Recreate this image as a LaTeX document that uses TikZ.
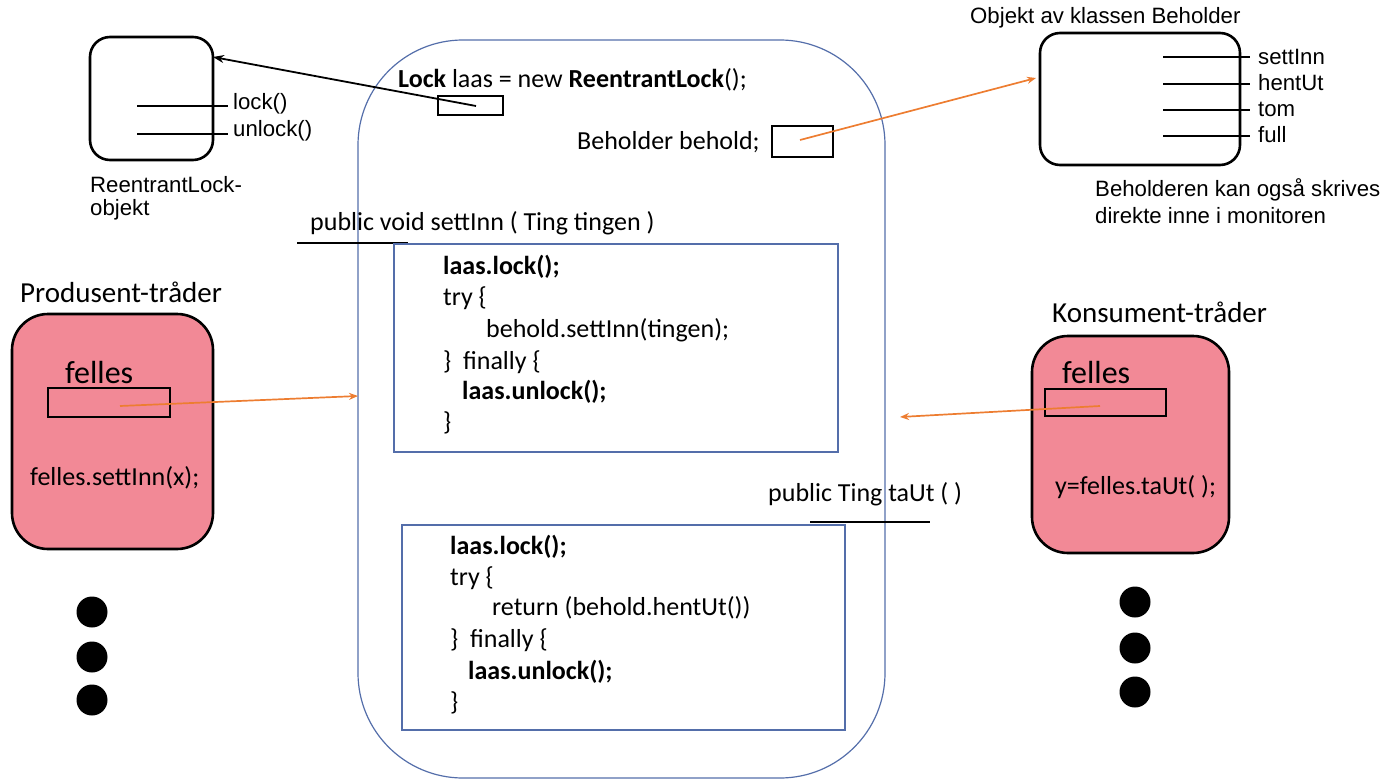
\documentclass[tikz,border=0pt]{standalone}
\usepackage{fontspec}
\setmainfont{Carlito}
\newfontfamily\arial{Liberation Sans}
\usetikzlibrary{arrows.meta}
\definecolor{monblue}{RGB}{84,110,170}
\definecolor{pinkfill}{RGB}{242,137,150}
\definecolor{arrorange}{RGB}{237,125,49}
\begin{document}
\begin{tikzpicture}[x=1pt,y=-1pt,
  objbox/.style={draw=black, line width=2.6pt, rounded corners=20pt, inner sep=0},
  thread/.style={draw=black, line width=2.6pt, fill=pinkfill, rounded corners=36pt, inner sep=0},
  codebox/.style={draw=monblue, line width=1.1pt, inner sep=0},
  refbox/.style={draw=black, line width=1.5pt, inner sep=0},
  lab/.style={font=\arial\fontsize{22.2}{27}\selectfont, anchor=west, inner sep=0},
  code/.style={font=\fontsize{26}{31}\selectfont, anchor=west, inner sep=0},
  titlecap/.style={font=\fontsize{29}{34}\selectfont, anchor=west, inner sep=0},
  big/.style={font=\fontsize{32}{38}\selectfont, anchor=west, inner sep=0},
  dot/.style={circle, fill=black, minimum size=31pt, inner sep=0},
  stub/.style={draw=black, line width=1.4pt},
  blk/.style={draw=black, line width=1.8pt, -{Stealth[length=11pt,width=8pt]}},
  org/.style={draw=arrorange, line width=1.7pt, -{Stealth[length=9pt,width=7pt]}}
]
\useasboundingbox (0,0) rectangle (1392,781);

% monitor
\node[draw=monblue, line width=1.2pt, rounded corners=105pt, minimum width=527pt, minimum height=738pt, inner sep=0] (mon) at (621.5,409) {};

% ReentrantLock object
\node[objbox, minimum width=123pt, minimum height=123pt] (rl) at (151.5,98.5) {};
\node[lab] (lockl) at (233,104) {lock()};
\node[lab] (unlockl) at (233,131) {unlock()};
\coordinate (l1) at (137,106);
\coordinate (l2) at (137,134);
\draw[stub] (l1) -- (228,106);
\draw[stub] (l2) -- (228,134);
\node[lab] (rlcap) at (90,185) {ReentrantLock-};
\node[lab] (rlcap2) at (90,210) {objekt};

% monitor header
\node[code] (lockdecl) at (398,80) {\textbf{Lock} laas = new \textbf{ReentrantLock}();};
\node[refbox, minimum width=65pt, minimum height=19pt] (laasref) at (470.5,105.5) {};
\node[code] (behdecl) at (577,142) {Beholder behold;};
\node[refbox, minimum width=61pt, minimum height=31pt] (behref) at (802.5,141.5) {};

% Beholder object
\node[lab] (objcap) at (970,18) {Objekt av klassen Beholder};
\node[objbox, minimum width=200pt, minimum height=132pt] (beh) at (1140,99) {};
\node[lab] (m1) at (1258,57) {settInn};
\node[lab] (m2) at (1258,83) {hentUt};
\node[lab] (m3) at (1258,109) {tom};
\node[lab] (m4) at (1258,135) {full};
\coordinate (s1) at (1163,57);
\coordinate (s2) at (1163,84);
\coordinate (s3) at (1163,110);
\coordinate (s4) at (1163,136);
\draw[stub] (s1) -- (1250,57);
\draw[stub] (s2) -- (1250,84);
\draw[stub] (s3) -- (1250,110);
\draw[stub] (s4) -- (1250,136);
\node[lab] (note1) at (1095,190) {Beholderen kan også skrives};
\node[lab] (note2) at (1095,216) {direkte inne i monitoren};

% arrows from references
\coordinate (rlhit) at (213,57);
\coordinate (laasstart) at (476,106);
\draw[blk] (laasstart) -- (rlhit);
\coordinate (behstart) at (800,140);
\coordinate (behhit) at (1036,78);
\draw[org] (behstart) -- (behhit);

% settInn method
\node[code] (sig1) at (310,223) {public void settInn ( Ting tingen )};
\draw[black, line width=1.2pt] (297,243) -- (408,243);
\node[codebox, minimum width=444pt, minimum height=208pt] (box1) at (616,348) {};
\node[code] (c11) at (443,267) {\textbf{laas.lock();}};
\node[code] (c12) at (443,298) {try \{};
\node[code] (c13) at (486,330) {behold.settInn(tingen);};
\node[code] (c14) at (443,362) {\}\ \ finally \{};
\node[code] (c15) at (462,392) {\textbf{laas.unlock();}};
\node[code] (c16) at (443,423) {\}};

% taUt method
\node[code] (sig2) at (768,494) {public Ting taUt ( )};
\draw[black, line width=1.2pt] (810,522) -- (930,522);
\node[codebox, minimum width=443pt, minimum height=205pt] (box2) at (623.5,627.5) {};
\node[code] (c21) at (450,547) {\textbf{laas.lock();}};
\node[code] (c22) at (450,578) {try \{};
\node[code] (c23) at (492,608) {return (behold.hentUt())};
\node[code] (c24) at (450,640) {\}\ \ finally \{};
\node[code] (c25) at (468,672) {\textbf{laas.unlock();}};
\node[code] (c26) at (450,703) {\}};

% producer
\node[titlecap] (prodcap) at (20,292) {Produsent-tråder};
\node[thread, minimum width=201pt, minimum height=235pt] (prod) at (112.5,431.5) {};
\node[big] (pfel) at (65,373) {felles};
\node[refbox, minimum width=122pt, minimum height=29pt] (pref) at (109,402.5) {};
\node[code] (pcall) at (30,478) {felles.settInn(x);};
\coordinate (pstart) at (120,406);
\coordinate (phit) at (358,396);
\draw[org] (pstart) -- (phit);
\node[dot] (pd1) at (92,612) {};
\node[dot] (pd2) at (92,657) {};
\node[dot] (pd3) at (92,700) {};

% consumer
\node[titlecap] (konscap) at (1052,312) {Konsument-tråder};
\node[thread, minimum width=197pt, minimum height=217pt] (kons) at (1130.5,444.5) {};
\node[big] (kfel) at (1062,373) {felles};
\node[refbox, minimum width=121pt, minimum height=27pt] (kref) at (1105.5,402.5) {};
\node[code] (kcall) at (1055,487) {y=felles.taUt( );};
\coordinate (kstart) at (1100,406);
\coordinate (khit) at (900,417);
\draw[org] (kstart) -- (khit);
\node[dot] (kd1) at (1135,602) {};
\node[dot] (kd2) at (1135,648) {};
\node[dot] (kd3) at (1135,692) {};
\end{tikzpicture}
\end{document}
